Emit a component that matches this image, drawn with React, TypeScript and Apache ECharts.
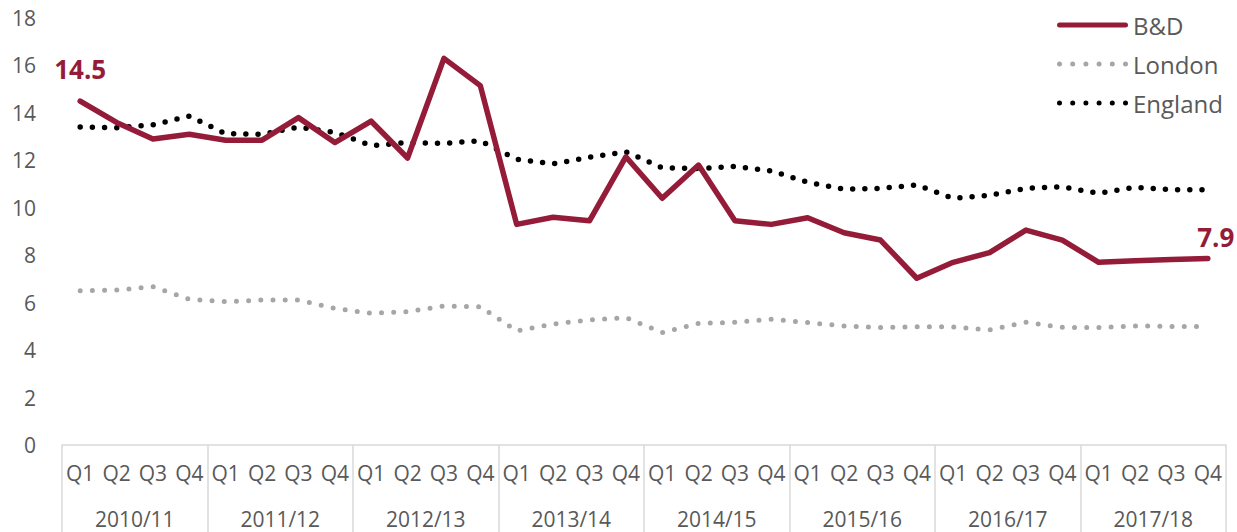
import React, { useEffect, useRef } from "react";
import * as echarts from "echarts";

const quarters = [
  "Q1", "Q2", "Q3", "Q4", "Q1", "Q2", "Q3", "Q4",
  "Q1", "Q2", "Q3", "Q4", "Q1", "Q2", "Q3", "Q4",
  "Q1", "Q2", "Q3", "Q4", "Q1", "Q2", "Q3", "Q4",
  "Q1", "Q2", "Q3", "Q4", "Q1", "Q2", "Q3", "Q4",
];
const years = ["2010/11", "2011/12", "2012/13", "2013/14", "2014/15", "2015/16", "2016/17", "2017/18"];

const bdValues = [
  14.5, 13.6, 12.9, 13.1, 12.85, 12.85, 13.8, 12.75,
  13.65, 12.1, 16.3, 15.15, 9.3, 9.6, 9.45, 12.15,
  10.4, 11.8, 9.45, 9.3, 9.58, 8.95, 8.64, 7.03,
  7.7, 8.11, 9.06, 8.64, 7.7, 7.77, 7.82, 7.86,
];
const londonValues = [
  6.5, 6.53, 6.67, 6.14, 6.04, 6.11, 6.11, 5.76,
  5.55, 5.62, 5.86, 5.83, 4.81, 5.1, 5.27, 5.37,
  4.74, 5.13, 5.17, 5.3, 5.16, 5.02, 4.95, 4.99,
  4.98, 4.85, 5.17, 4.96, 4.95, 5.02, 5.0, 5.0,
];
const englandValues = [
  13.4, 13.37, 13.5, 13.86, 13.12, 13.1, 13.4, 13.18,
  12.62, 12.75, 12.72, 12.82, 12.04, 11.85, 12.13, 12.36,
  11.69, 11.65, 11.74, 11.55, 11.08, 10.78, 10.82, 10.96,
  10.4, 10.52, 10.82, 10.88, 10.61, 10.86, 10.76, 10.76,
];

const RED = "#951c38";
const GREY_TEXT = "#595959";
const FONT = "Open Sans";

const solidIcon = "path://M2.5,0 L68.5,0 A2.5,2.5 0 0 1 68.5,5 L2.5,5 A2.5,2.5 0 0 1 2.5,0 Z";
const dotIcon =
  "path://" +
  [0, 1, 2, 3, 4, 5]
    .map((i) => {
      const cx = 2.5 + i * 13.2;
      return `M${cx - 2.5},2.5 A2.5,2.5 0 1 0 ${cx + 2.5},2.5 A2.5,2.5 0 1 0 ${cx - 2.5},2.5 Z`;
    })
    .join(" ");

export default function App() {
  const ref = useRef<HTMLDivElement>(null);
  useEffect(() => {
    if (!ref.current) return;
    const chart = echarts.init(ref.current, undefined, { renderer: "svg" });
    const last = bdValues.length - 1;
    const endLabel = (distance: number, offset: number[]) => ({
      show: true,
      position: "top",
      distance,
      offset,
      formatter: (p: any) => (Math.round(Number(p.value) * 10) / 10).toFixed(1),
      fontSize: 26,
      fontWeight: "bold",
      fontFamily: FONT,
      color: RED,
    });
    const bdData = bdValues.map((v, i) => {
      if (i === 0) return { value: v, symbol: "circle", symbolSize: 2, label: endLabel(18, [0, 0]) };
      if (i === last) return { value: v, symbol: "circle", symbolSize: 2, label: endLabel(8, [8, 0]) };
      return v;
    });
    chart.setOption({
      animation: false,
      textStyle: { fontFamily: FONT },
      grid: { left: 62, right: 11, top: 18, bottom: 87 },
      legend: {
        orient: "vertical",
        left: 1052,
        top: 8,
        itemWidth: 71,
        itemHeight: 5,
        itemGap: 15,
        textStyle: { fontSize: 24, lineHeight: 24, color: GREY_TEXT, fontFamily: FONT },
        data: [
          { name: "B&D", icon: solidIcon, itemStyle: { color: RED } },
          { name: "London", icon: dotIcon, itemStyle: { color: "#a6a6a6" } },
          { name: "England", icon: dotIcon, itemStyle: { color: "#000000" } },
        ],
      },
      xAxis: [
        {
          type: "category",
          data: quarters,
          boundaryGap: true,
          axisLine: { show: true, lineStyle: { color: "#d9d9d9", width: 1.5 } },
          axisTick: { show: false },
          axisLabel: { interval: 0, margin: 17, fontSize: 21, color: GREY_TEXT, fontFamily: FONT },
        },
        {
          type: "category",
          data: years,
          position: "bottom",
          boundaryGap: true,
          axisLine: { show: false },
          axisTick: { show: true, length: 95, lineStyle: { color: "#d9d9d9", width: 1.5 } },
          axisLabel: { interval: 0, margin: 63, fontSize: 21, color: GREY_TEXT, fontFamily: FONT },
        },
      ],
      yAxis: {
        type: "value",
        min: 0,
        max: 18,
        interval: 2,
        axisLine: { show: false },
        axisTick: { show: false },
        splitLine: { show: false },
        axisLabel: { fontSize: 21, color: GREY_TEXT, margin: 26, fontFamily: FONT },
      },
      series: [
        {
          name: "B&D",
          type: "line",
          xAxisIndex: 0,
          data: bdData,
          symbol: "none",
          color: RED,
          lineStyle: { color: RED, width: 5.5, cap: "round", join: "round" },
          z: 5,
        },
        {
          name: "London",
          type: "line",
          xAxisIndex: 0,
          data: londonValues,
          symbol: "none",
          color: "#a6a6a6",
          lineStyle: { color: "#a6a6a6", width: 5, type: [0, 12.2], cap: "round" },
          z: 3,
        },
        {
          name: "England",
          type: "line",
          xAxisIndex: 0,
          data: englandValues,
          symbol: "none",
          color: "#000000",
          lineStyle: { color: "#000000", width: 5.5, type: [0, 12.2], cap: "round" },
          z: 4,
        },
      ],
    });
    return () => chart.dispose();
  }, []);
  return <div ref={ref} style={{ width: 1237, height: 532, position: "absolute", left: 0, top: 0 }} />;
}
